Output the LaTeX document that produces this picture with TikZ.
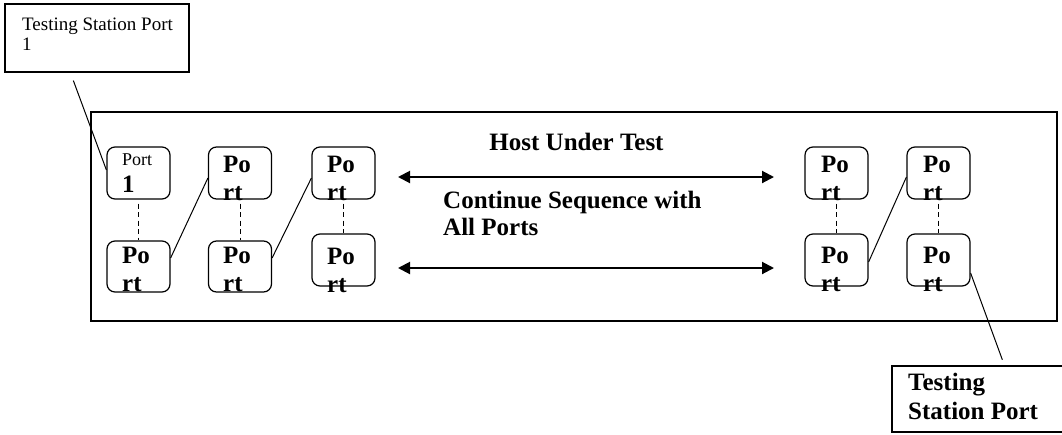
\documentclass[tikz,border=0pt]{standalone}
\usepackage{fontspec}
\setmainfont{Liberation Serif}
\usetikzlibrary{arrows.meta}

\tikzset{
  portbox/.style={draw, rounded corners=8pt, line width=1.2pt, minimum width=63pt, minimum height=52pt, inner sep=0pt},
  porttext/.style={anchor=base west, align=left, inner sep=0pt, font=\bfseries\fontsize{25}{28}\selectfont},
  note/.style={draw, line width=1.2pt, inner sep=0pt},
  dashlink/.style={dash pattern=on 5pt off 3.5pt, line width=0.9pt, shorten <=4pt},
  link/.style={line width=1pt},
  bothway/.style={line width=2pt, {Triangle[length=12pt,width=12pt]}-{Triangle[length=12pt,width=12pt]}}
}

\begin{document}
\begin{tikzpicture}[x=1pt, y=-1pt]
  \useasboundingbox (0,0) rectangle (1062,434);

  % frame and the two callouts
  \node [note, minimum width=966pt, minimum height=209pt] at (574, 216.5) (host) {};
  \node [note, minimum width=184pt, minimum height=68pt] at (97, 38) (ts1) {};
  \node [note, minimum width=183pt, minimum height=66pt] at (983.5, 399) (tsn) {};

  % multi-line texts sit on their last baseline
  \node [anchor=base west, align=left, inner sep=0pt, font=\fontsize{19}{20}\selectfont] at (22, 50) (ts1 text) {Testing Station Port\\1};
  \node [porttext, font=\bfseries\fontsize{25}{29}\selectfont] at (908, 419) (tsn text) {Testing\\Station Port};

  \node [anchor=base, inner sep=0pt, font=\bfseries\fontsize{25}{28}\selectfont] at (576.5, 150) (title) {Host Under Test};
  \node [porttext, font=\bfseries\fontsize{25}{27}\selectfont] at (443, 235) (hint) {Continue Sequence with\\All Ports};

  % ports
  \node [portbox] at (138.5, 173) (top1) {};
  \node [portbox] at (240, 173) (top2) {};
  \node [portbox] at (343.5, 173) (top3) {};
  \node [portbox] at (836.5, 173) (top4) {};
  \node [portbox] at (938.5, 173) (top5) {};
  \node [portbox, minimum height=51pt] at (138.5, 266.5) (bot1) {};
  \node [portbox, minimum height=51pt] at (240, 266.5) (bot2) {};
  \node [portbox] at (343.5, 260) (bot3) {};
  \node [portbox] at (836.5, 260) (bot4) {};
  \node [portbox] at (938.5, 260) (bot5) {};

  \node [porttext] at (122, 192) (top1 text) {{\mdseries\fontsize{18}{27}\selectfont Port}\\[-1pt]1};
  \node [porttext] at (223, 200) (top2 text) {Po\\rt};
  \node [porttext] at (327, 200) (top3 text) {Po\\rt};
  \node [porttext] at (821, 200) (top4 text) {Po\\rt};
  \node [porttext] at (923, 200) (top5 text) {Po\\rt};
  \node [porttext] at (122, 291) (bot1 text) {Po\\rt};
  \node [porttext] at (223, 291) (bot2 text) {Po\\rt};
  \node [porttext] at (327, 292) (bot3 text) {Po\\rt};
  \node [porttext] at (821, 291) (bot4 text) {Po\\rt};
  \node [porttext] at (923, 291) (bot5 text) {Po\\rt};

  \foreach \c in {1,...,5}
    \draw [dashlink] (top\c) -- (bot\c);

  \draw [link] ([yshift=8.5pt]bot1.east) -- ([yshift=-5pt]top2.west);
  \draw [link] ([yshift=8.5pt]bot2.east) -- ([yshift=-5pt]top3.west);
  \draw [link] ([yshift=-2pt]bot4.east) -- ([yshift=-4pt]top5.west);
  \draw [link, shorten <=8.5pt] ([xshift=66pt]ts1.south west) -- ([yshift=3pt]top1.west);
  \draw [link, shorten >=6pt] ([yshift=-13pt]bot5.east) -- ([xshift=113pt]tsn.north west);

  \coordinate (upL) at (398, 177);
  \coordinate (upR) at (774, 177);
  \coordinate (lowL) at (398, 268);
  \coordinate (lowR) at (774, 268);
  \draw [bothway] (upL) -- (upR);
  \draw [bothway] (lowL) -- (lowR);
\end{tikzpicture}
\end{document}
